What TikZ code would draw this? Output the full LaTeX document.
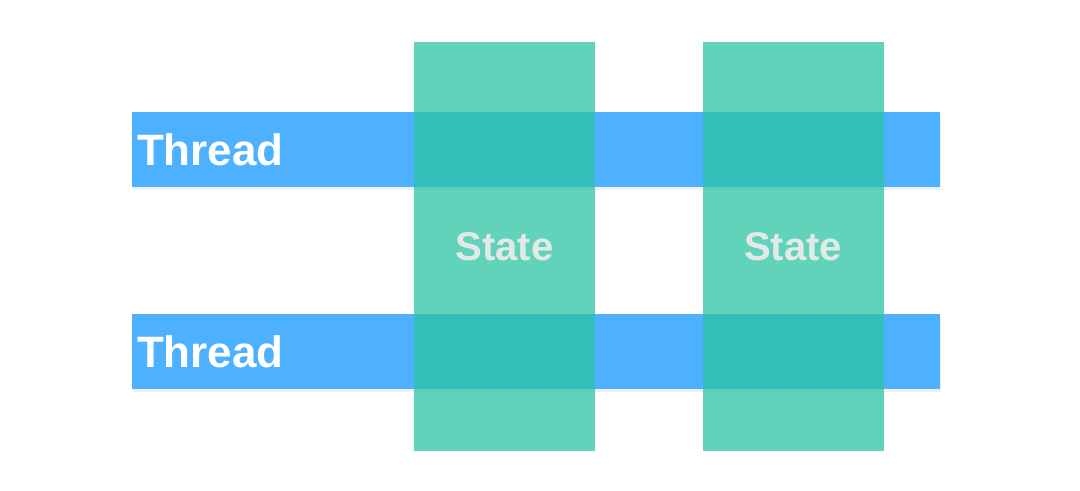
\documentclass[tikz,border=0pt]{standalone}
\usepackage{fontspec}
\newfontfamily\barfont{Liberation Sans}
\usetikzlibrary{shadows}
\definecolor{threadblue}{RGB}{77,177,255}
\definecolor{stategreen}{RGB}{45,196,164}
\definecolor{statetext}{RGB}{228,233,231}
\begin{document}
\begin{tikzpicture}[
    thread/.style={rectangle, fill=threadblue, minimum width=8.08cm, minimum height=0.75cm,
      text width=7.98cm, align=left, inner sep=0pt, text=white,
      font=\barfont\bfseries\fontsize{12.5}{14}\selectfont,
      drop shadow={opacity=0.12, shadow xshift=0.4pt, shadow yshift=-0.8pt}},
    state/.style={rectangle, fill=stategreen, fill opacity=0.75, text opacity=1,
      minimum width=1.81cm, minimum height=4.09cm, inner sep=0pt, text=statetext,
      font=\barfont\bfseries\fontsize{11.4}{14}\selectfont}
  ]
  \useasboundingbox (0,0) rectangle (10.8,4.9);
  \node[thread] (t1) at (5.36,3.405) {Thread};
  \node[thread] (t2) at (5.36,1.385) {Thread};
  \node[state] (s1) at (5.045,2.435) {State};
  \node[state] (s2) at (7.93,2.435) {State};
\end{tikzpicture}
\end{document}
